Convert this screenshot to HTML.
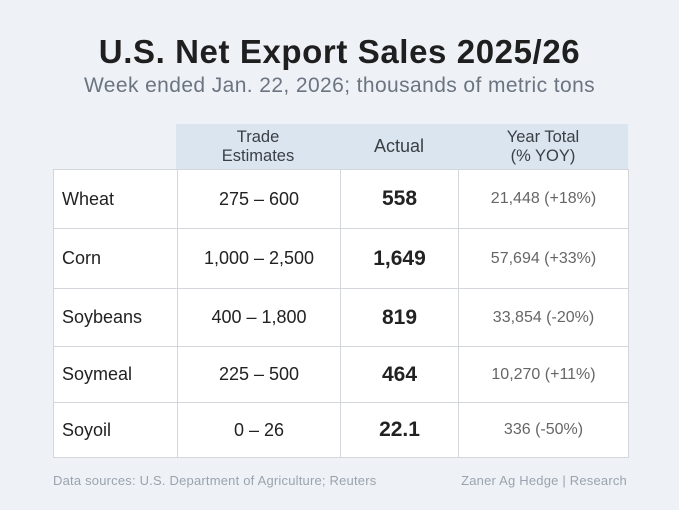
<!DOCTYPE html>
<html><head><style>
body{margin:0;width:679px;height:510px;background:#eef2f7;font-family:"Liberation Sans",sans-serif;position:relative;overflow:hidden;color:#222}
.a{position:absolute}
h1{position:absolute;left:0;width:679px;top:33px;margin:0;text-align:center;font-size:33px;letter-spacing:0.6px;font-weight:bold;color:#1f1f1f}
.sub{left:0;width:679px;top:74px;text-align:center;font-size:21px;letter-spacing:0.4px;color:#6b7480}
.hdr{left:176px;top:124px;width:452px;height:45px;background:#dbe5ef}
.hc{top:124px;height:45px;display:flex;align-items:center;justify-content:center;text-align:center;font-size:16.5px;color:#3a3f45;line-height:19px}
table{position:absolute;left:53px;top:169px;border-collapse:collapse;background:#fff}
td{border:1px solid #d3d6da;font-size:18px;padding:0;text-align:center;color:#222}
td:first-child{text-align:left;padding-left:8px}
td.b{font-weight:bold;font-size:21px}
td.g{font-size:16px;color:#666}
.ft{top:473px;font-size:13px;letter-spacing:0.2px;color:#9aa3ad}
</style></head><body>
<h1>U.S. Net Export Sales 2025/26</h1>
<div class="a sub">Week ended Jan. 22, 2026; thousands of metric tons</div>
<div class="a hdr"></div>
<div class="a hc" style="left:176px;width:164px">Trade<br>Estimates</div>
<div class="a hc" style="left:340px;width:118px;font-size:18px">Actual</div>
<div class="a hc" style="left:458px;width:170px">Year Total<br>(% YOY)</div>
<table>
<colgroup><col style="width:124px"><col style="width:163px"><col style="width:118px"><col style="width:170px"></colgroup>
<tr style="height:59px"><td>Wheat</td><td>275 – 600</td><td class="b">558</td><td class="g">21,448 (+18%)</td></tr>
<tr style="height:60px"><td>Corn</td><td>1,000 – 2,500</td><td class="b">1,649</td><td class="g">57,694 (+33%)</td></tr>
<tr style="height:58px"><td>Soybeans</td><td>400 – 1,800</td><td class="b">819</td><td class="g">33,854 (-20%)</td></tr>
<tr style="height:56px"><td>Soymeal</td><td>225 – 500</td><td class="b">464</td><td class="g">10,270 (+11%)</td></tr>
<tr style="height:55px"><td>Soyoil</td><td>0 – 26</td><td class="b">22.1</td><td class="g">336 (-50%)</td></tr>
</table>
<div class="a ft" style="left:53px">Data sources: U.S. Department of Agriculture; Reuters</div>
<div class="a ft" style="right:52px">Zaner Ag Hedge | Research</div>
</body></html>
